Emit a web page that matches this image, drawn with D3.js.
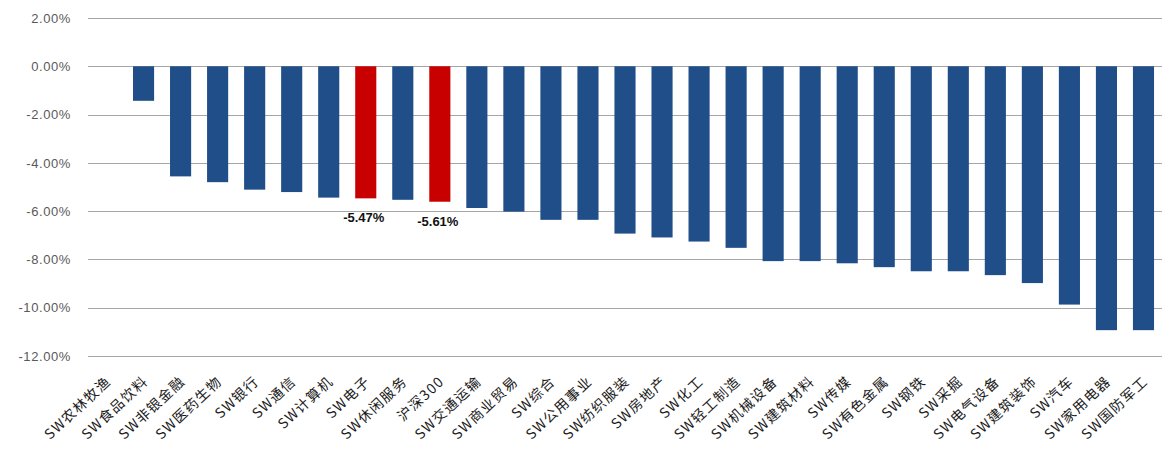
<!DOCTYPE html>
<html>
<head>
<meta charset="utf-8">
<script src="https://cdn.jsdelivr.net/npm/d3@7"></script>
<style>
  html, body { margin: 0; padding: 0; background: #fff; }
  svg { display: block; }
</style>
</head>
<body>
<svg id="chart" width="1162" height="452"></svg>
<script>
// Weekly returns of Shenwan level-1 industries vs. CSI 300 (%)
const categories = [
  "SW农林牧渔", "SW食品饮料", "SW非银金融", "SW医药生物", "SW银行", "SW通信",
  "SW计算机", "SW电子", "SW休闲服务", "沪深300", "SW交通运输", "SW商业贸易",
  "SW综合", "SW公用事业", "SW纺织服装", "SW房地产", "SW化工", "SW轻工制造",
  "SW机械设备", "SW建筑材料", "SW传媒", "SW有色金属", "SW钢铁", "SW采掘",
  "SW电气设备", "SW建筑装饰", "SW汽车", "SW家用电器", "SW国防军工"
];
const values = [
  0.00, -1.43, -4.56, -4.80, -5.11, -5.21,
  -5.44, -5.47, -5.53, -5.61, -5.87, -6.02,
  -6.36, -6.36, -6.93, -7.09, -7.26, -7.52,
  -8.07, -8.07, -8.16, -8.32, -8.49, -8.49,
  -8.65, -8.98, -9.87, -10.93, -10.93
];
// Bars that carry a value label and the highlight colour
const highlighted = ["SW电子", "沪深300"];
const yTicks = [2, 0, -2, -4, -6, -8, -10, -12];

const svg = d3.select("#chart");
const margin = { left: 88, right: 0, top: 18, bottom: 96 };
const W = 1162, H = 452;

const x = d3.scaleBand()
  .domain(categories)
  .range([margin.left, W - margin.right])
  .paddingInner(0.43)
  .paddingOuter(0.215);

const y = d3.scaleLinear()
  .domain([-12, 2])
  .range([H - margin.bottom, margin.top]);

const fmt = v => v.toFixed(2) + "%";

// Horizontal gridlines
svg.append("g")
  .selectAll("line")
  .data(yTicks)
  .join("line")
  .attr("x1", margin.left)
  .attr("x2", W)
  .attr("y1", d => Math.round(y(d)) + 0.5)
  .attr("y2", d => Math.round(y(d)) + 0.5)
  .attr("stroke", "#a6a6a6")
  .attr("stroke-width", 1);

// Y axis labels
const yAxis = d3.axisLeft(y).tickValues(yTicks).tickFormat(fmt).tickSize(0).tickPadding(0);
const gy = svg.append("g")
  .attr("transform", `translate(${margin.left - 17},0)`)
  .call(yAxis);
gy.select(".domain").remove();
gy.selectAll("text")
  .attr("fill", "#595959")
  .style("font-family", "Liberation Sans, Arial, sans-serif")
  .style("font-size", "13px")
  .style("letter-spacing", "0.6px");

// Bars
svg.append("g")
  .selectAll("rect")
  .data(categories.map((c, i) => ({ c, v: values[i] })))
  .join("rect")
  .attr("x", d => x(d.c))
  .attr("width", x.bandwidth())
  .attr("y", d => y(Math.max(0, d.v)))
  .attr("height", d => Math.abs(y(d.v) - y(0)))
  .attr("fill", d => highlighted.includes(d.c) ? "#c80000" : "#1f4e89");

// Value labels on highlighted bars
svg.append("g")
  .selectAll("text")
  .data(categories.map((c, i) => ({ c, v: values[i] })).filter(d => highlighted.includes(d.c)))
  .join("text")
  .attr("x", d => x(d.c) + x.bandwidth() / 2 - 2)
  .attr("y", d => y(d.v) + 24)
  .attr("text-anchor", "middle")
  .attr("fill", "#111")
  .style("font-family", "Liberation Sans, Arial, sans-serif")
  .style("font-size", "13px")
  .style("font-weight", "600")
  .text(d => fmt(d.v));

// X axis labels, rotated
const xAxis = d3.axisBottom(x).tickSize(0).tickPadding(0);
const gx = svg.append("g")
  .attr("transform", `translate(0,${y(-12) + 14})`)
  .call(xAxis);
gx.select(".domain").remove();
gx.selectAll("text")
  .attr("text-anchor", "end")
  .attr("dy", "0.35em")
  .attr("transform", "translate(2,9) rotate(-43)")
  .attr("fill", "#1a1a1a")
  .style("font-family", "Noto Sans CJK SC, sans-serif")
  .style("font-size", "14px")
  .style("letter-spacing", "1.3px");
</script>
</body>
</html>
